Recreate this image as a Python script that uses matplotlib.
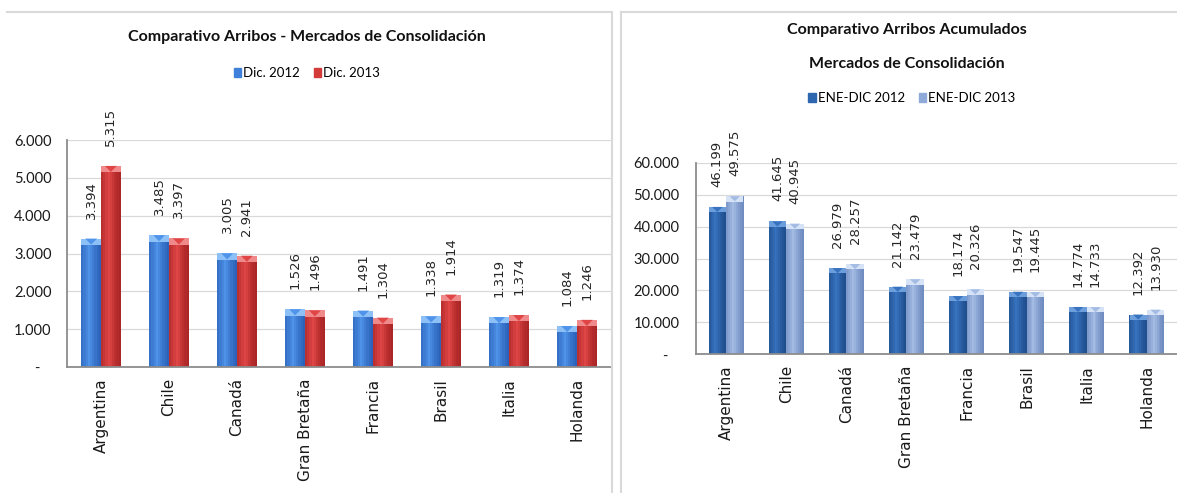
import numpy as np
import matplotlib
matplotlib.use('Agg')
from matplotlib import pyplot as plt
from matplotlib.patches import Patch
from matplotlib.lines import Line2D
from matplotlib.ticker import FuncFormatter

# datos
paises = ['Argentina', 'Chile', 'Canadá', 'Gran Bretaña', 'Francia', 'Brasil', 'Italia', 'Holanda']
dic_2012 = [3394, 3485, 3005, 1526, 1491, 1338, 1319, 1084]
dic_2013 = [5315, 3397, 2941, 1496, 1304, 1914, 1374, 1246]
acum_2012 = [46199, 41645, 26979, 21142, 18174, 19547, 14774, 12392]
acum_2013 = [49575, 40945, 28257, 23479, 20326, 19445, 14733, 13930]

titulo_izq = 'Comparativo Arribos - Mercados de Consolidación'
titulo_der = 'Comparativo Arribos Acumulados\nMercados de Consolidación'
leyenda_izq = ['Dic. 2012', 'Dic. 2013']
leyenda_der = ['ENE-DIC 2012', 'ENE-DIC 2013']

W, H = 1177, 493
fig = plt.figure(figsize=(W / 100, H / 100), dpi=100)
fig.patch.set_facecolor('white')


def caja(x0, y0, x1, y1):
    # pixeles -> fraccion de figura
    return [x0 / W, 1 - y1 / H, (x1 - x0) / W, (y1 - y0) / H]


def miles(v, pos):
    if v == 0:
        return '-   '
    return '{:,.0f}'.format(v).replace(',', '.')


def barras(ax, x, vals, w, borde, centro, tapa, cap_h):
    # barra con degradado horizontal hecho con franjas
    n = 9
    t = (np.arange(n) + 0.5) / n
    k = np.clip(1 - np.abs(t - 0.4) / 0.6, 0, 1) ** 1.3
    c0 = np.array(matplotlib.colors.to_rgb(borde))
    c1 = np.array(matplotlib.colors.to_rgb(centro))
    x = np.asarray(x, dtype=float)
    vals = np.asarray(vals, dtype=float)
    for i in range(n):
        col = c0 + (c1 - c0) * k[i]
        ax.bar(x - w / 2 + (i + 0.5) * w / n, vals, w / n * 1.02, color=col,
               linewidth=0, zorder=3)
    # tapa biselada
    ax.bar(x, [cap_h] * len(vals), w, bottom=vals - cap_h, color=tapa,
           linewidth=0, zorder=4)
    for xi, v in zip(x, vals):
        ax.fill([xi - w * 0.3, xi + w * 0.3, xi], [v, v, v - cap_h * 0.95],
                color=centro, linewidth=0, zorder=5)


def grafico(ax, vals_a, vals_b, ymax, cols_a, cols_b, pad_y):
    x = np.arange(len(paises))
    w = 0.29
    cap_h = ymax * 0.028
    barras(ax, x - w / 2, vals_a, w, *cols_a, cap_h)
    barras(ax, x + w / 2, vals_b, w, *cols_b, cap_h)
    for xs, vs in ((x - w / 2, vals_a), (x + w / 2, vals_b)):
        for xi, v in zip(xs, vs):
            ax.annotate('{:,}'.format(v).replace(',', '.'), (xi, v),
                        xytext=(0, 20), textcoords='offset pixels',
                        rotation=90, ha='center', va='bottom',
                        fontsize=9.5, color='#262626', family='DejaVu Sans')
    ax.set_xlim(-0.5, len(paises) - 0.5)
    ax.set_ylim(0, ymax)
    ax.set_yticks(np.linspace(0, ymax, 7))
    ax.yaxis.set_major_formatter(FuncFormatter(miles))
    ax.set_xticks(x)
    ax.set_xticklabels(paises, rotation=90, fontsize=11, family='DejaVu Sans',
                       color='#1a1a1a')
    for lab in ax.get_yticklabels():
        lab.set_family('Lato')
        lab.set_fontsize(10.5)
        lab.set_color('#1a1a1a')
    ax.tick_params(axis='x', length=0, pad=8)
    ax.tick_params(axis='y', length=0, pad=pad_y)
    ax.grid(axis='y', color='#d9d9d9', linewidth=0.9, zorder=0)
    ax.set_axisbelow(True)
    for s in ('top', 'right'):
        ax.spines[s].set_visible(False)
    for s in ('left', 'bottom'):
        ax.spines[s].set_color('#8c8c8c')
        ax.spines[s].set_linewidth(1.3)
        ax.spines[s].set_zorder(6)


# grafico izquierdo
ax1 = fig.add_axes(caja(67, 140, 611, 367))
grafico(ax1, dic_2012, dic_2013, 6000,
        ('#2a60b8', '#4f94ea', '#8cc0f6'), ('#a82424', '#e04646', '#f08a8a'), 11)
fig.text(307 / W, 1 - 37 / H, titulo_izq, ha='center', va='center',
         fontsize=11.5, fontweight='bold', family='Lato', color='#111111')
fig.legend([Patch(color='#3f80da'), Patch(color='#d33a3a')], leyenda_izq,
           loc='center', bbox_to_anchor=(307 / W, 1 - 73 / H), ncol=2,
           frameon=False, prop={'family': 'Lato', 'size': 9.5},
           handlelength=0.55, handleheight=0.7, handletextpad=0.15, columnspacing=1.1)

# grafico derecho
ax2 = fig.add_axes(caja(696, 163, 1177, 354))
grafico(ax2, acum_2012, acum_2013, 60000,
        ('#1e4d8c', '#3873c0', '#6c9edc'), ('#6e8bbf', '#a4bce4', '#d6e3f6'), 12)
fig.text(907 / W, 1 - 30 / H, titulo_der.split('\n')[0], ha='center', va='center',
         fontsize=11.5, fontweight='bold', family='Lato', color='#111111')
fig.text(907 / W, 1 - 64 / H, titulo_der.split('\n')[1], ha='center', va='center',
         fontsize=11.5, fontweight='bold', family='Lato', color='#111111')
fig.legend([Patch(color='#2f66b0'), Patch(color='#8fa9d8')], leyenda_der,
           loc='center', bbox_to_anchor=(912 / W, 1 - 98 / H), ncol=2,
           frameon=False, prop={'family': 'Lato', 'size': 9.5},
           handlelength=0.55, handleheight=0.7, handletextpad=0.15, columnspacing=1.1)

# bordes de los paneles
gris = '#d9d9d9'
for xs, ys in (([7, 612], [12, 12]), ([612, 612], [12, H]),
               ([621, 621], [12, H]), ([621, W], [12, 12])):
    fig.add_artist(Line2D([v / W for v in xs], [1 - v / H for v in ys],
                          color=gris, linewidth=1.5))

fig.savefig('out.png', dpi=100)
